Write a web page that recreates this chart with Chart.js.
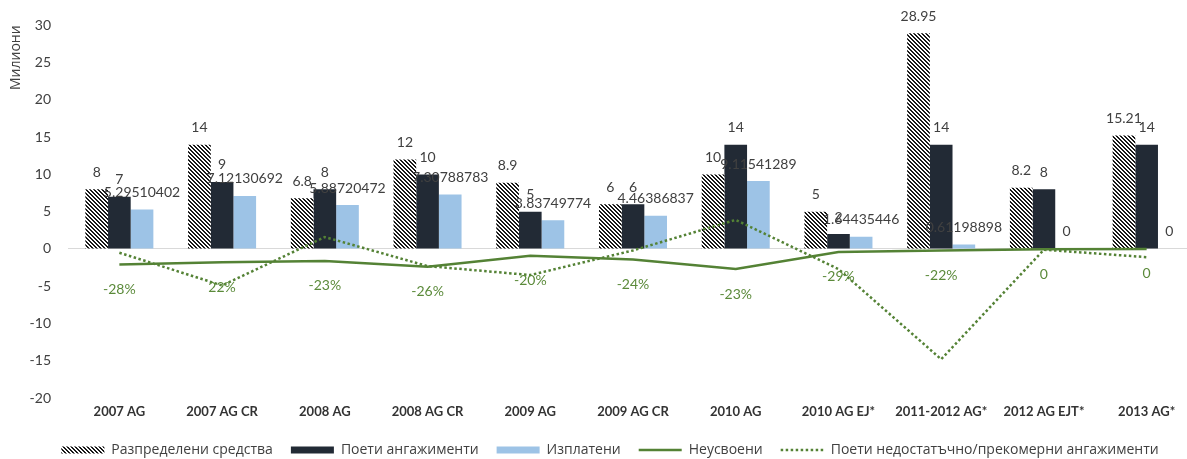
<!DOCTYPE html>
<html><head><meta charset="utf-8">
<script src="https://cdn.jsdelivr.net/npm/chart.js@4"></script>
<style>html,body{margin:0;padding:0;background:#fff;overflow:hidden}#wrap{width:1200px;height:467px;position:relative}</style>
</head><body><div id="wrap"><canvas id="c"></canvas></div>
<script>
const categories = ['2007 AG','2007 AG CR','2008 AG','2008 AG CR','2009 AG','2009 AG CR','2010 AG','2010 AG EJ*','2011-2012 AG*','2012 AG EJT*','2013 AG*'];
const allocated = [8,14,6.8,12,8.9,6,10,5,28.95,8.2,15.21];
const committed = [7,9,8,10,5,6,14,2,14,8,14];
const paid = [5.29510402,7.12130692,5.88720472,7.30788783,3.83749774,4.46386837,9.11541289,1.64435446,0.61198898,0,0];
const unabsorbed = [-2.1,-1.8,-1.6,-2.4,-0.9,-1.4,-2.7,-0.4,-0.2,-0.05,0];
const commitGap = [-0.5,-4.9,1.6,-2.3,-3.5,-0.2,3.9,-2.7,-14.8,-0.1,-1.1];
const unabsorbedLabels = ['-28%','22%','-23%','-26%','-20%','-24%','-23%','-29%','-22%','0','0'];
const seriesNames = ['Разпределени средства','Поети ангажименти','Изплатени','Неусвоени','Поети недостатъчно/прекомерни ангажименти'];
const yMin = -20, yMax = 30, yStep = 5;

function hatch(){
  const c=document.createElement('canvas'); c.width=4; c.height=4;
  const x=c.getContext('2d'); const img=x.createImageData(4,4);
  for(let yy=0;yy<4;yy++)for(let xx=0;xx<4;xx++){
    const k=((xx-yy)%4+4)%4; const v=k<2?25:255; const i=(yy*4+xx)*4;
    img.data[i]=v;img.data[i+1]=v;img.data[i+2]=v;img.data[i+3]=255;
  }
  x.putImageData(img,0,0); return x.createPattern(c,'repeat');
}
const hatchPattern = hatch();
const GREEN = '#548235';

const valueLabels = {
  id:'valueLabels',
  afterDatasetsDraw(chart){
    const ctx=chart.ctx; ctx.save();
    ctx.font="14px Lato, 'Open Sans'"; ctx.textAlign='center'; ctx.textBaseline='middle';
    ctx.fillStyle='#404040';
    [0,1,2].forEach(di=>{
      const meta=chart.getDatasetMeta(di); const data=chart.data.datasets[di].data;
      meta.data.forEach((el,j)=>ctx.fillText(String(data[j]), el.x, el.y-17));
    });
    ctx.fillStyle='#5b8a3a';
    chart.getDatasetMeta(3).data.forEach((el,j)=>ctx.fillText(unabsorbedLabels[j], el.x, el.y+25));
    ctx.restore();
  }
};

new Chart(document.getElementById('c'),{
  data:{
    labels:categories,
    datasets:[
      {type:'bar',label:seriesNames[0],data:allocated,backgroundColor:hatchPattern,borderWidth:0,categoryPercentage:0.662,barPercentage:1,order:1},
      {type:'bar',label:seriesNames[1],data:committed,backgroundColor:'#222a35',borderWidth:0,categoryPercentage:0.662,barPercentage:1,order:1},
      {type:'bar',label:seriesNames[2],data:paid,backgroundColor:'#9dc3e6',borderWidth:0,categoryPercentage:0.662,barPercentage:1,order:1},
      {type:'line',label:seriesNames[3],data:unabsorbed,borderColor:GREEN,borderWidth:2.5,pointRadius:0,tension:0,fill:false,order:0},
      {type:'line',label:seriesNames[4],data:commitGap,borderColor:GREEN,borderWidth:2.5,borderDash:[2.5,2.5],pointRadius:0,tension:0,fill:false,order:0}
    ]
  },
  options:{
    responsive:true, maintainAspectRatio:false, animation:false, devicePixelRatio:1,
    layout:{padding:{left:22,right:2,top:24,bottom:0}},
    plugins:{
      tooltip:{enabled:false},
      legend:{position:'bottom',labels:{usePointStyle:true,pointStyleWidth:43,boxHeight:7,padding:18,color:'#404040',
        font:{family:"'Open Sans'",size:14},
        generateLabels(chart){
          return chart.data.datasets.map((ds,i)=>({
            text:ds.label,
            fillStyle: ds.type==='line' ? 'rgba(0,0,0,0)' : ds.backgroundColor,
            strokeStyle: ds.type==='line' ? ds.borderColor : 'rgba(0,0,0,0)',
            lineWidth: ds.type==='line' ? 2.5 : 0,
            lineDash: ds.borderDash || [],
            pointStyle: ds.type==='line' ? 'line' : 'rect',
            fontColor:'#404040', hidden:false, datasetIndex:i
          }));
        }}}
    },
    scales:{
      x:{grid:{display:false,drawTicks:false},border:{display:false},
        ticks:{padding:6,color:'#333',autoSkip:false,maxRotation:0,font:{family:'Lato',weight:'bold',size:13}},
        afterFit(s){s.height=27;}},
      y:{min:yMin,max:yMax,
        ticks:{stepSize:yStep,padding:17,color:'#404040',font:{family:"Lato, 'Open Sans'",size:14}},
        grid:{drawTicks:false,lineWidth:1,color:c=>(c.tick&&c.tick.value===0)?'#d9d9d9':'rgba(0,0,0,0)'},
        border:{display:false},
        title:{display:true,text:'Милиони',align:'end',color:'#404040',font:{family:"'Open Sans'",size:14},padding:{top:-14,bottom:0}},
        afterFit(s){s.width=46;}}
    }
  },
  plugins:[valueLabels]
});
</script></body></html>
